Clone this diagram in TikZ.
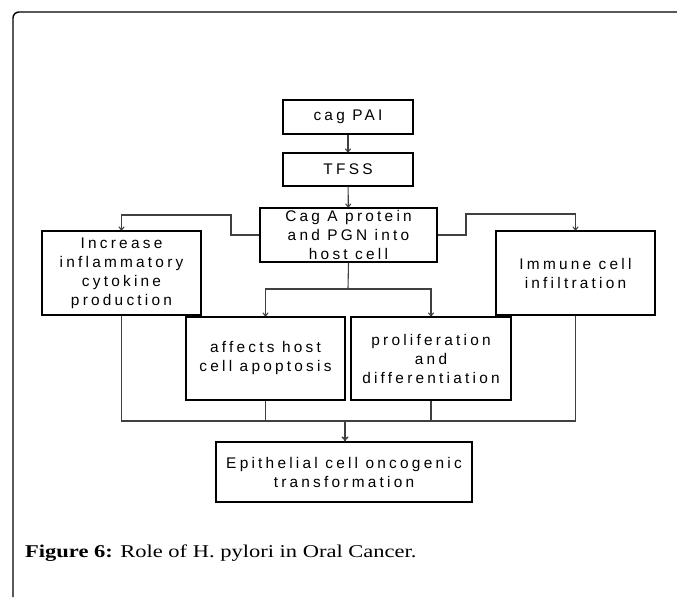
\documentclass[tikz,border=0pt]{standalone}
\usepackage{fontspec}
\usepackage{tikz}
\usetikzlibrary{arrows.meta}
\newfontfamily\boxfont[LetterSpace=21]{Liberation Sans}
\newfontfamily\capfont[FakeStretch=1.25]{Liberation Serif}

\begin{document}
\begin{tikzpicture}[x=1pt, y=-1pt,
  box/.style={draw, line width=1.1pt, align=center, inner sep=0pt,
    font=\boxfont\fontsize{15.4}{19}\selectfont},
  link/.style={draw=black!75, line width=1.1pt},
  tip/.style={-{To[length=4pt, width=6pt]}}]
\useasboundingbox (0,0) rectangle (677,597);
\draw[line width=1.4pt, rounded corners=6pt] (677,12) -- (13,12) -- (13,597);
\node[box, minimum width=130, minimum height=34] (pai) at (348,117) {cag PAI};
\node[box, minimum width=130, minimum height=33] (tfss) at (348,169.5) {TFSS};
\node[box, minimum width=177, minimum height=54] (caga) at (348.5,235) {Cag A protein\\and PGN into\\host cell};
\node[box, minimum width=159, minimum height=84] (incr) at (121.5,273) {Increase\\inflammatory\\cytokine\\production};
\node[box, minimum width=159, minimum height=84] (imm) at (575.5,273) {Immune cell\\infiltration};
\node[box, minimum width=159, minimum height=83] (apop) at (265.5,358.5) {affects host\\cell apoptosis};
\node[box, minimum width=160, minimum height=83] (prol) at (431,358.5) {proliferation\\and\\differentiation};
\node[box, minimum width=256, minimum height=60] (epi) at (344,472) {Epithelial cell oncogenic\\transformation};
\coordinate (split) at (348,289);
\coordinate (join) at (345,421);
% top chain
\draw[link, tip] (pai) -- (tfss);
\draw[link, tip] (tfss) -- (caga);
\draw[link, tip] (caga.west) -- (231,235) -- (231,215) -- (121.5,215) -- (incr.north);
\draw[link, tip] (caga.east) -- (466,235) -- (466,214) -- (575.5,214) -- (imm.north);
\draw[link] (caga.south) -- (split);
\draw[link, tip] (split) -| (apop.north);
\draw[link, tip] (split) -| (prol.north);
% collecting line
\draw[link] (incr.south) |- (join) -| (imm.south);
\draw[link, line width=1.6pt] (apop.south) |- (join) -| (prol.south);
\draw[link, line width=1.6pt, -{To[length=5pt, width=7pt]}] (join) -- (epi.north -| join);
\node[anchor=base west, inner sep=0pt, font=\capfont\fontsize{18}{22}\selectfont] (cap) at (25,557.7)
  {\textbf{Figure 6:} Role of H. pylori in Oral Cancer.};
\end{tikzpicture}
\end{document}
